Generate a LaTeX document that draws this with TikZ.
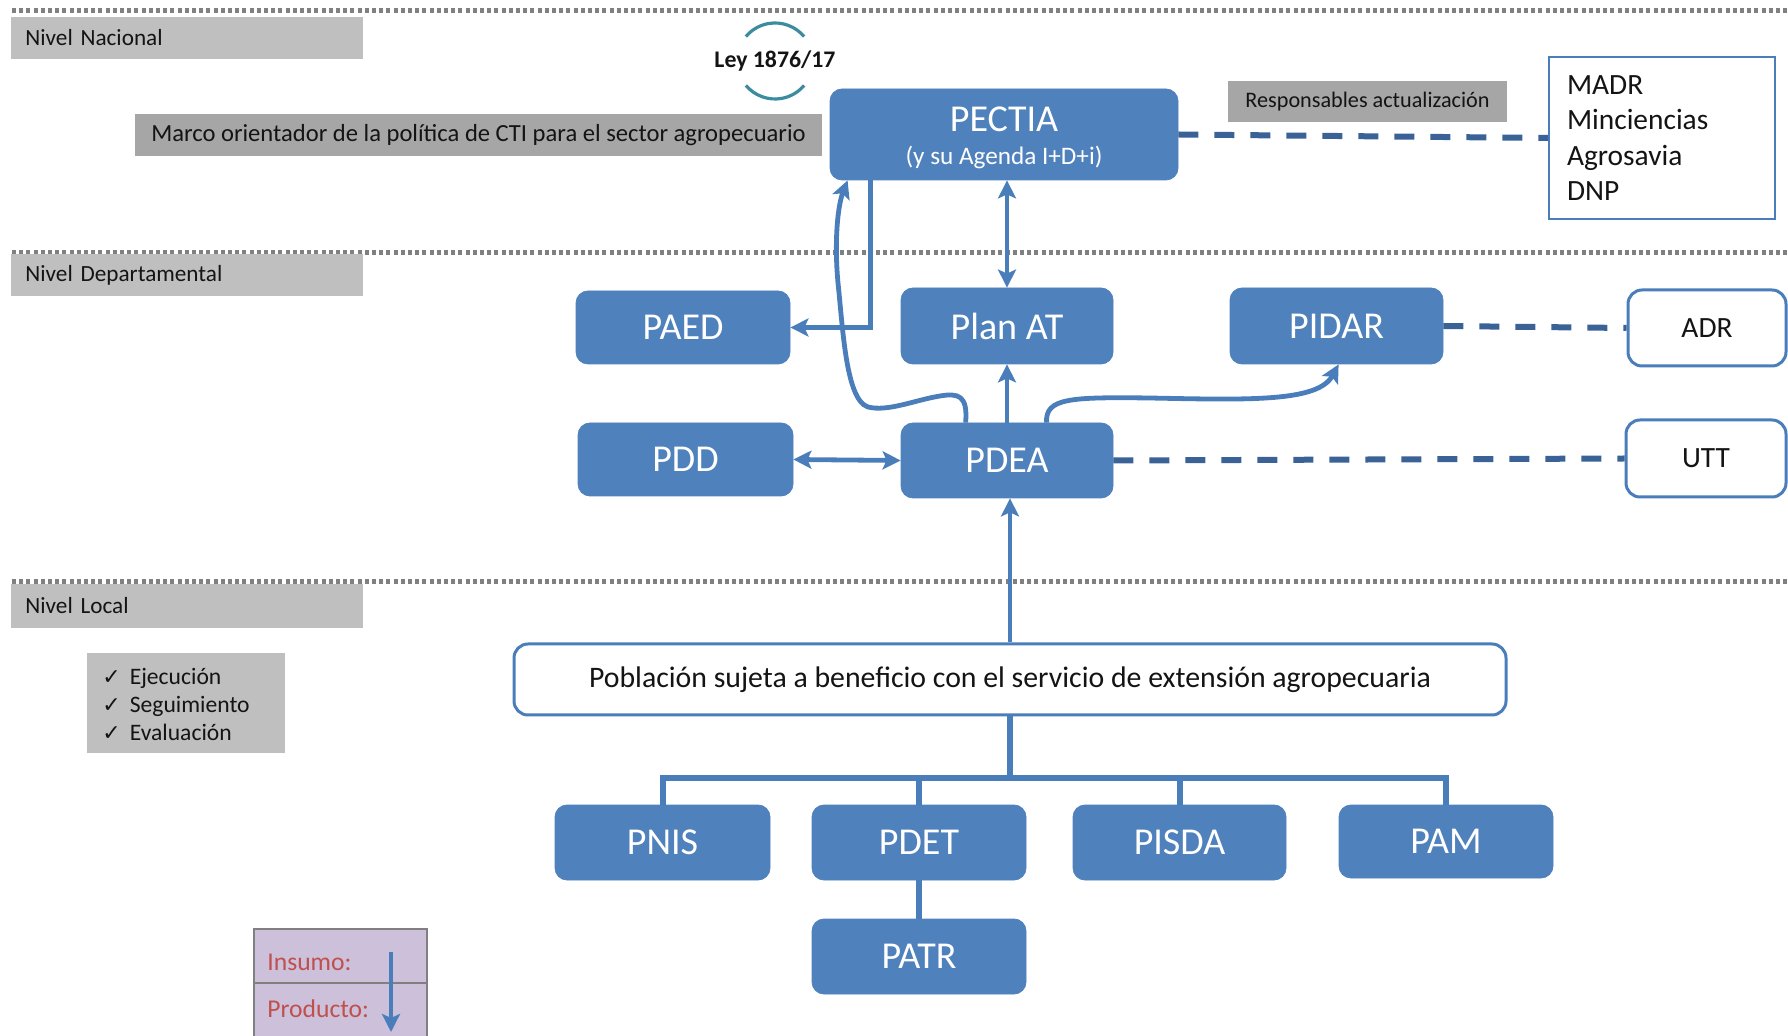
\documentclass[tikz,border=0pt]{standalone}
\usepackage{fontspec}
\setmainfont{Carlito}
\newfontfamily\dejavu{DejaVu Sans}
\usetikzlibrary{arrows.meta,calc}
\definecolor{boxblue}{RGB}{79,129,189}
\definecolor{lineblue}{RGB}{74,126,187}
\definecolor{dashblue}{RGB}{58,98,150}
\definecolor{lvlgray}{RGB}{191,191,191}
\definecolor{midgray}{RGB}{166,166,166}
\definecolor{dotgray}{RGB}{128,128,128}
\definecolor{leyteal}{RGB}{60,140,160}
\definecolor{lilac}{RGB}{204,192,218}
\definecolor{insred}{RGB}{192,80,77}
\definecolor{txtdark}{RGB}{20,20,20}
\tikzset{
  bluebox/.style={rectangle, rounded corners=6pt, fill=boxblue, draw=boxblue, text=white,
    font=\fontsize{19}{21}\selectfont, minimum width=107pt, minimum height=37pt, inner sep=0pt},
  whitebox/.style={rectangle, rounded corners=7pt, draw=lineblue, line width=1.5pt, fill=white,
    text=txtdark, font=\fontsize{14.7}{16}\selectfont, inner sep=0pt},
  lvl/.style={rectangle, fill=lvlgray, anchor=west, minimum height=21pt, text width=162pt,
    inner xsep=7pt, inner ysep=0pt, align=left, text=txtdark, font=\fontsize{11.6}{13}\selectfont},
  graylbl/.style={rectangle, fill=midgray, inner sep=0pt, text=txtdark},
  dotline/.style={dotgray, line width=2.5pt, dash pattern=on 2pt off 1.6pt},
  arr/.style={lineblue, line width=2.4pt, -{Stealth[length=9pt,width=9pt,inset=2pt]}},
  biarr/.style={lineblue, line width=2.4pt, {Stealth[length=9pt,width=9pt,inset=2pt]}-{Stealth[length=9pt,width=9pt,inset=2pt]}},
  dline/.style={dashblue, line width=3pt, dash pattern=on 10pt off 8pt},
  treeline/.style={lineblue, line width=3pt},
  arcst/.style={leyteal, line width=1.6pt},
  insbox/.style={rectangle, fill=lilac, draw=dotgray, line width=1pt, inner sep=0pt},
  whitetxt/.style={inner sep=0pt, text=white},
}
\begin{document}
\begin{tikzpicture}[x=0.5pt,y=-0.5pt]
\useasboundingbox (0,0) rectangle (1788,1036);
\clip (0,0) rectangle (1788,1036);

% level separators
\draw[dotline] (12,11) -- (1788,11);
\draw[dotline] (12,253) -- (1788,253);
\draw[dotline] (12,582) -- (1788,582);

% level labels
\node[lvl] (nnac) at (11,38) {Nivel Nacional};
\node[lvl] (ndep) at (11,275.5) {Nivel Departamental};
\node[lvl, minimum height=22pt] (nloc) at (11,606) {Nivel Local};

% national level
\node[font=\bfseries\fontsize{11.9}{13}\selectfont, text=txtdark] (ley) at (775,61) {Ley 1876/17};
\coordinate (lc) at ($(ley.center)+(0,0)$);
\draw[arcst] ($(lc)+(40:19pt)$) arc[start angle=40,end angle=140,radius=19pt];
\draw[arcst] ($(lc)+(220:19pt)$) arc[start angle=220,end angle=320,radius=19pt];

\node[graylbl, minimum width=343.5pt, minimum height=21pt, font=\fontsize{12.3}{14}\selectfont] (marco) at (478.5,135)
  {Marco orientador de la política de CTI para el sector agropecuario};

\node[bluebox, minimum width=174pt, minimum height=45.5pt] (pectia) at (1004,134.5) {};
\node[whitetxt, font=\fontsize{19}{20}\selectfont] (pectiaA) at ($(pectia.center)+(0,-15.5)$) {PECTIA};
\node[whitetxt, font=\fontsize{12.6}{14}\selectfont] (pectiaB) at ($(pectia.center)+(0,23)$) {(y su Agenda I+D+i)};

\node[graylbl, minimum width=139.5pt, minimum height=20.5pt, font=\fontsize{11.1}{13}\selectfont] (resp) at (1367.5,101.5)
  {Responsables actualización};

\node[rectangle, draw=lineblue, line width=1pt, fill=white, minimum width=113pt, minimum height=81pt,
  text width=95pt, inner xsep=9pt, inner ysep=0pt, align=left, text=txtdark,
  font=\fontsize{14.7}{17.6}\selectfont] (madr) at (1662,138)
  {MADR\\Minciencias\\Agrosavia\\DNP};

% departmental level
\node[bluebox, minimum width=107pt, minimum height=36.5pt] (paed) at (683,327.5) {PAED};
\node[bluebox, minimum width=106pt, minimum height=38pt] (planat) at (1007,326) {Plan AT};
\node[bluebox, minimum width=106.5pt, minimum height=38pt] (pidar) at (1336.5,326) {PIDAR};
\node[bluebox, minimum width=107.5pt, minimum height=36.5pt] (pdd) at (685.5,459.5) {PDD};
\node[bluebox, minimum width=106pt, minimum height=37.5pt] (pdea) at (1007,460.5) {PDEA};
\node[whitebox, minimum width=79pt, minimum height=38pt] (adr) at (1707,328) {ADR};
\node[whitebox, minimum width=80pt, minimum height=38.5pt] (utt) at (1706,458.5) {UTT};

% local level
\node[rectangle, fill=lvlgray, minimum width=99pt, minimum height=50pt, inner sep=0pt] (chk) at (186,703) {};
\node[anchor=west, inner sep=0pt, text=txtdark, font=\fontsize{11.8}{14}\selectfont] (chktxt) at (102,707)
  {\renewcommand{\arraystretch}{1}\begin{tabular}{@{}l@{\hspace{4.5pt}}l@{}}
   {\dejavu\fontsize{11}{12}\selectfont ✓} & Ejecución\\
   {\dejavu\fontsize{11}{12}\selectfont ✓} & Seguimiento\\
   {\dejavu\fontsize{11}{12}\selectfont ✓} & Evaluación\end{tabular}};

\node[whitebox, minimum width=496pt, minimum height=35.5pt, font=\fontsize{14.9}{16}\selectfont] (pob) at (1010,679.5)
  {Población sujeta a beneficio con el servicio de extensión agropecuaria};

\node[bluebox, minimum width=107.5pt, minimum height=37.5pt] (pnis) at (662.5,842.5) {PNIS};
\node[bluebox, minimum width=107pt, minimum height=37.5pt] (pdet) at (919,842.5) {PDET};
\node[bluebox, minimum width=106.5pt, minimum height=37.5pt] (pisda) at (1179.5,842.5) {PISDA};
\node[bluebox, minimum width=107pt, minimum height=36.5pt] (pam) at (1446,841.5) {PAM};
\node[bluebox, minimum width=107pt, minimum height=37.5pt] (patr) at (919,956.5) {PATR};

% legend
\node[insbox, anchor=north west, minimum width=86.5pt, minimum height=27pt] (ins) at (253,928) {};
\node[insbox, anchor=north west, minimum width=86.5pt, minimum height=40pt] (prod) at (253,982) {};
\node[anchor=west, inner sep=0pt, text=insred, font=\fontsize{12.8}{14}\selectfont] (instxt) at (267,962) {Insumo:};
\node[anchor=west, inner sep=0pt, text=insred, font=\fontsize{12.8}{14}\selectfont] (prodtxt) at (267,1009) {Producto:};
\coordinate (la) at ($(ins.north west)+(138,24)$);
\coordinate (lb) at ($(prod.north west)+(138,50)$);
\draw[arr, line width=2.2pt] (la) -- (lb);

% connectors
\draw[biarr] (planat.north) -- (planat.north |- pectia.south);
\draw[arr] (pdea.north) -- (planat.south);
\draw[biarr] (pdd.east) -- (pdea.west);
\draw[arr] (pob.north) -- (pob.north |- pdea.south);
\draw[arr] ($(pectia.south west)+(41,0)$) |- (paed.east);
\draw[arr] ($(pdea.north west)+(65,0)$) .. controls (968,395) and (958,393) .. (940,396)
   .. controls (915,400) and (888,412) .. (868,407)
   .. controls (846,400) and (843,330) .. (838,283)
   .. controls (834,240) and (838,205) .. ($(pectia.south west)+(18,0)$);
\draw[arr] ($(pdea.north west)+(146,0)$) .. controls (1045,398) and (1070,397) .. (1150,398)
   .. controls (1250,400) and (1318,402) .. ($(pidar.south west)+(109,0)$);

\draw[dline] (pectia.east) -- (madr.west);
\draw[dline] (pidar.east) -- (adr.west);
\draw[dline] (pdea.east) -- (utt.west);

% tree
\coordinate (bus) at (1010,778);
\draw[treeline] (pob.south) -- (pob.south |- bus);
\draw[treeline] (pnis.north) -- (pnis.north |- bus) -- (pam.north |- bus) -- (pam.north);
\draw[treeline] (pdet.north) -- (pdet.north |- bus);
\draw[treeline] (pisda.north) -- (pisda.north |- bus);
\draw[treeline] (pdet.south) -- (patr.north);
\end{tikzpicture}
\end{document}
